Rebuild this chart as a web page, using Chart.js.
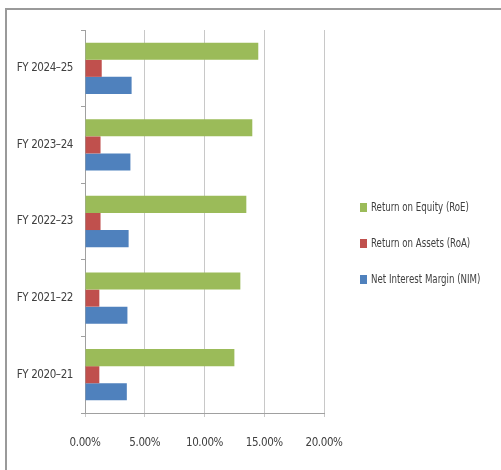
<!DOCTYPE html>
<html>
<head>
<meta charset="utf-8">
<script src="https://cdn.jsdelivr.net/npm/chart.js@4"></script>
<style>
  html, body { margin: 0; padding: 0; background: #fff; overflow: hidden; }
  .frame {
    position: absolute;
    left: 5px;
    top: 8px;
    width: 520px;
    height: 480px;
    border: 2px solid #9a9a9a;
  }
  #ratios { display: block; }
</style>
</head>
<body>
<div class="frame">
  <canvas id="ratios" width="494" height="460"></canvas>
</div>
<script>
const years = ["FY 2024\u201325", "FY 2023\u201324", "FY 2022\u201323", "FY 2021\u201322", "FY 2020\u201321"];
const roe = [14.5, 14.0, 13.5, 13.0, 12.5];
const roa = [1.4, 1.3, 1.3, 1.2, 1.2];
const nim = [3.9, 3.8, 3.65, 3.55, 3.5];
const pctTicks = [0, 5, 10, 15, 20];

const FONT = '"DejaVu Sans Condensed", "Liberation Sans Narrow", sans-serif';
const TEXT = "#404040";

// tighter letter spacing for the axis labels
const tightText = {
  id: "tightText",
  beforeDraw(chart) {
    chart.ctx.letterSpacing = "-0.4px";
  },
};

// legend drawn to the right of the plot, one row per series
const sideLegend = {
  id: "sideLegend",
  afterDraw(chart) {
    const { ctx, chartArea } = chart;
    const x = chartArea.right + 36;
    const mid = (chartArea.top + chartArea.bottom) / 2 + 22;
    ctx.save();
    ctx.letterSpacing = "0px";
    ctx.font = "12px " + FONT;
    ctx.textBaseline = "middle";
    chart.data.datasets.forEach((ds, i) => {
      const y = mid + (i - 1) * 36;
      ctx.fillStyle = ds.backgroundColor;
      ctx.fillRect(x, y - 4.5, 7, 9);
      ctx.save();
      ctx.translate(x + 11, y);
      ctx.scale(0.8, 1);
      ctx.fillStyle = TEXT;
      ctx.fillText(ds.label, 0, 0);
      ctx.restore();
    });
    ctx.restore();
  },
};

const ctx = document.getElementById("ratios").getContext("2d");
const ratiosChart = new Chart(ctx, {
  type: "bar",
  data: {
    labels: years,
    datasets: [
      { label: "Return on Equity (RoE)", data: roe, backgroundColor: "#9BBB59" },
      { label: "Return on Assets (RoA)", data: roa, backgroundColor: "#C0504D" },
      { label: "Net Interest Margin (NIM)", data: nim, backgroundColor: "#4F81BD" },
    ],
  },
  options: {
    indexAxis: "y",
    responsive: false,
    animation: false,
    layout: { padding: { top: 20, right: 177, left: 0, bottom: 0 } },
    datasets: {
      bar: { categoryPercentage: 0.67, barPercentage: 1.0, borderWidth: 0 },
    },
    scales: {
      x: {
        min: 0,
        max: 20,
        afterBuildTicks: (scale) => {
          scale.ticks = pctTicks.map((v) => ({ value: v }));
        },
        afterFit: (scale) => { scale.height = 57; },
        grid: { color: "#c8c8c8", tickLength: 4 },
        border: { color: "#a0a0a0" },
        ticks: {
          padding: 19,
          color: TEXT,
          font: { family: FONT, size: 11.5 },
          callback: (v) => v.toFixed(2) + "%",
        },
      },
      y: {
        afterFit: (scale) => { scale.width = 78; },
        grid: { drawOnChartArea: false, tickLength: 4, color: "#a0a0a0" },
        border: { color: "#a0a0a0" },
        ticks: {
          padding: 8,
          color: TEXT,
          font: { family: FONT, size: 11.5 },
        },
      },
    },
    plugins: {
      legend: { display: false },
      tooltip: { enabled: false },
    },
  },
  plugins: [tightText, sideLegend],
});
</script>
</body>
</html>
